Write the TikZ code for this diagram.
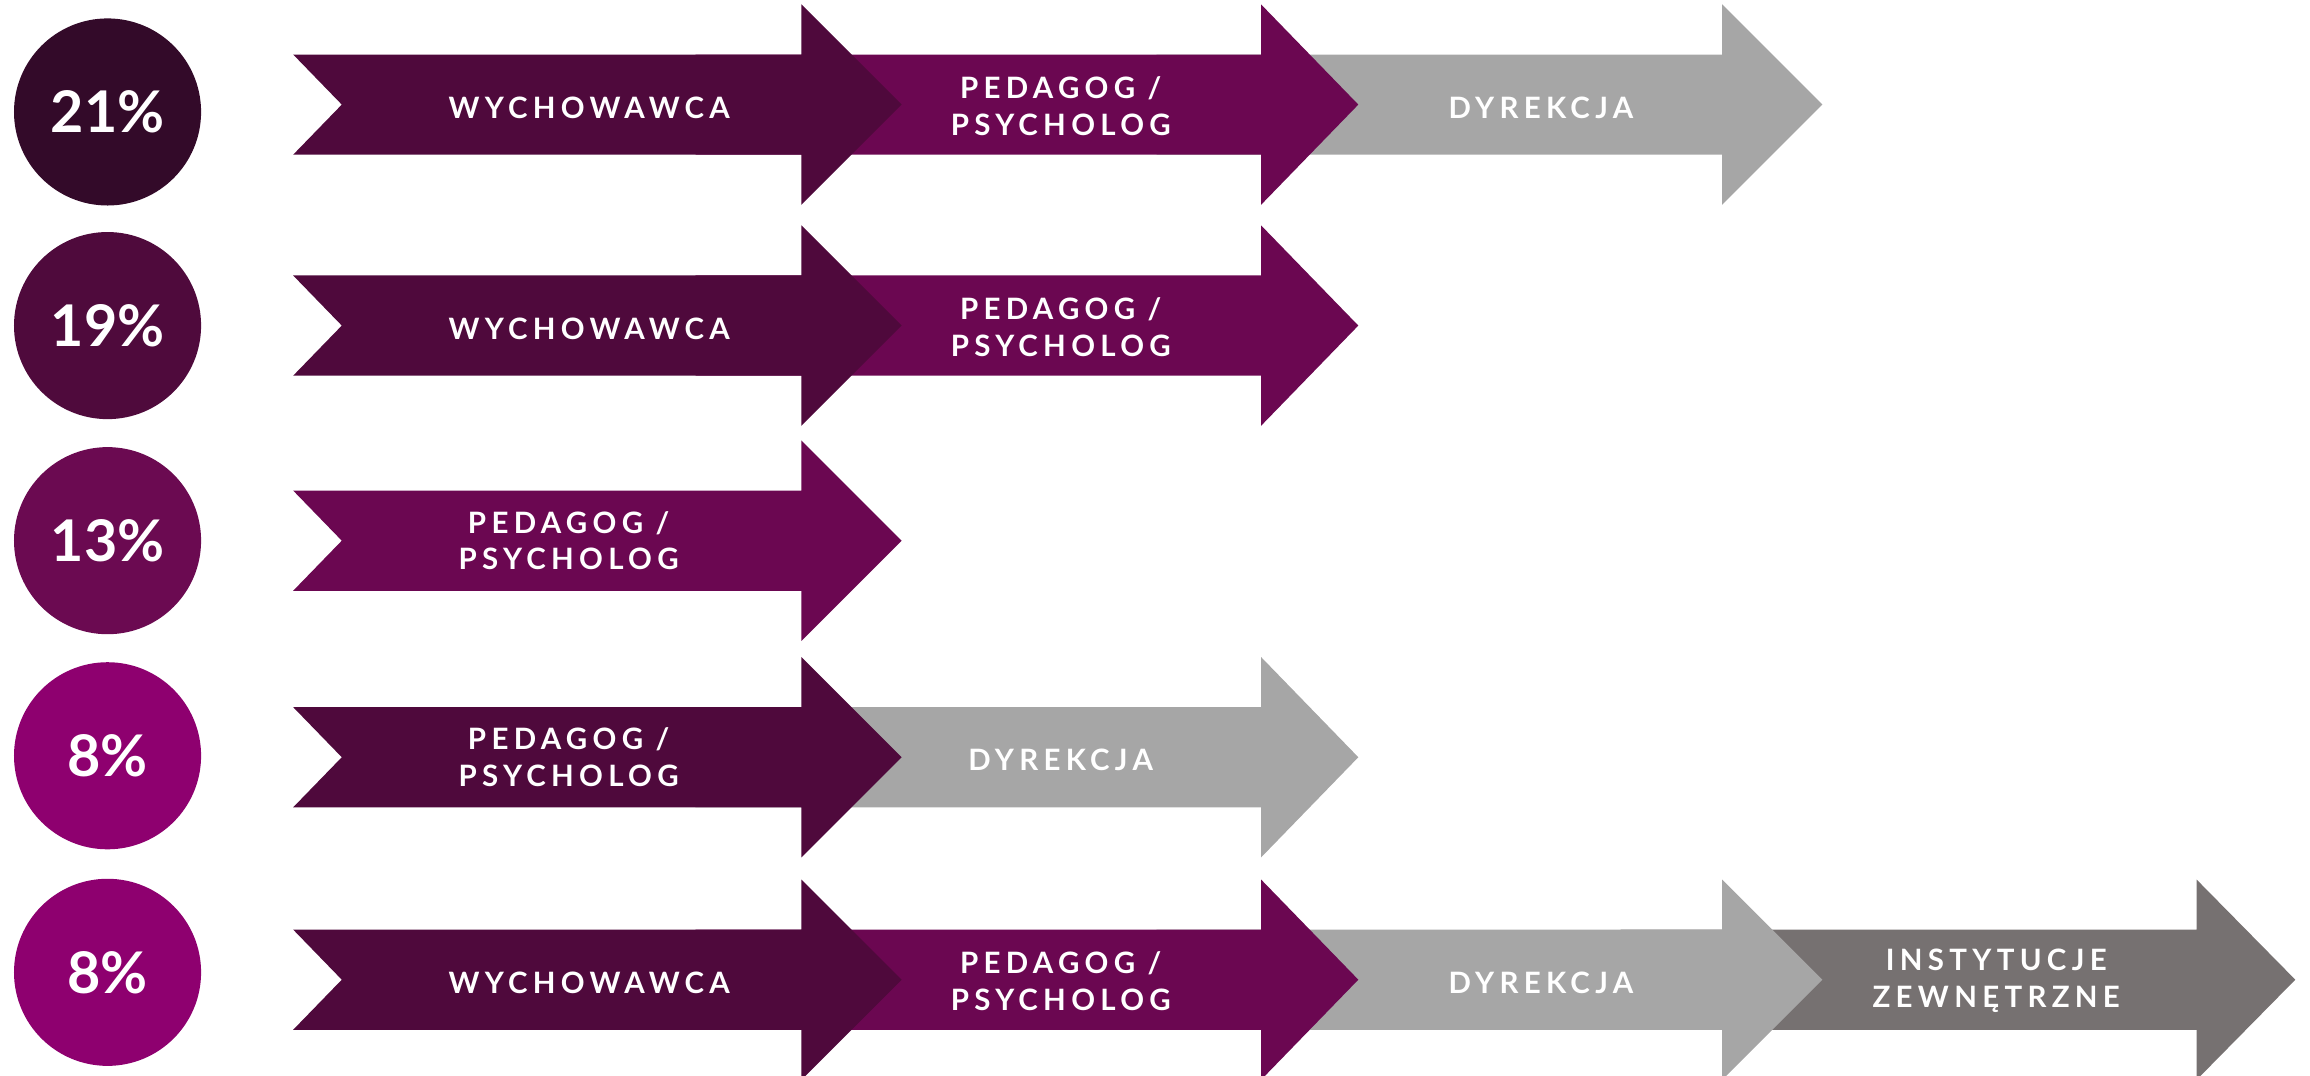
\documentclass[tikz,border=0pt]{standalone}
\usepackage{fontspec}
\setmainfont{Lato}
\newfontfamily\tagfont[LetterSpace=18]{Lato}

\definecolor{circA}{HTML}{330A29}
\definecolor{circB}{HTML}{4F0A3C}
\definecolor{circC}{HTML}{6B0A51}
\definecolor{circD}{HTML}{8E006F}
\definecolor{plumdark}{HTML}{4F093C}
\definecolor{plum}{HTML}{6B0751}
\definecolor{greyL}{HTML}{A6A6A6}
\definecolor{greyD}{HTML}{767171}

\tikzset{
  pct/.style={circle, minimum size=127pt, inner sep=0pt, text=white,
    font=\fontsize{39}{39}\selectfont\bfseries},
  tag/.style={text=white, align=center, inner sep=0pt,
    font=\tagfont\fontsize{20}{25}\selectfont\bfseries},
}

\newcommand{\flowarrow}[5]{%
  \fill[#1] (#3,#2-34) -- (#4,#2-34) -- (#4,#2-68) -- (#5,#2) -- (#4,#2+68)
    -- (#4,#2+34) -- (#3,#2+34) -- (#3+33,#2) -- cycle;}

\begin{document}
\begin{tikzpicture}[x=1pt, y=-1pt]
    \useasboundingbox (0,0) rectangle (1568,730);
    \clip (0,0) rectangle (1568,730);

    \node[pct, fill=circA] (p1) at (73,76) {21\%};
    \node[pct, fill=circB] (p2) at (73,221) {19\%};
    \node[pct, fill=circC] (p3) at (73,367) {13\%};
    \node[pct, fill=circD] (p4) at (73,513) {8\%};
    \node[pct, fill=circD] (p5) at (73,660) {8\%};

    \flowarrow{greyL}{71}{785}{1169}{1237}
    \flowarrow{plum}{71}{472}{856}{922}
    \flowarrow{plumdark}{71}{199}{544}{612}
    \node[tag] (w1) at (400,73) {WYCHOWAWCA};
    \node[tag] (pp1) at (720,72) {PEDAGOG /\\PSYCHOLOG};
    \node[tag] (d1) at (1046,73) {DYREKCJA};

    \flowarrow{plum}{221}{472}{856}{922}
    \flowarrow{plumdark}{221}{199}{544}{612}
    \node[tag] (w2) at (400,223) {WYCHOWAWCA};
    \node[tag] (pp2) at (720,222) {PEDAGOG /\\PSYCHOLOG};

    \flowarrow{plum}{367}{199}{544}{612}
    \node[tag] (pp3) at (386,367) {PEDAGOG /\\PSYCHOLOG};

    \flowarrow{greyL}{514}{472}{856}{922}
    \flowarrow{plumdark}{514}{199}{544}{612}
    \node[tag] (pp4) at (386,514) {PEDAGOG /\\PSYCHOLOG};
    \node[tag] (d4) at (720,516) {DYREKCJA};

    \flowarrow{greyD}{665}{1100}{1491}{1558}
    \flowarrow{greyL}{665}{785}{1169}{1237}
    \flowarrow{plum}{665}{472}{856}{922}
    \flowarrow{plumdark}{665}{199}{544}{612}
    \node[tag] (w5) at (400,667) {WYCHOWAWCA};
    \node[tag] (pp5) at (720,666) {PEDAGOG /\\PSYCHOLOG};
    \node[tag] (d5) at (1046,667) {DYREKCJA};
    \node[tag] (i5) at (1355,666) {INSTYTUCJE\\ZEWNĘTRZNE};

    \end{tikzpicture}
\end{document}
